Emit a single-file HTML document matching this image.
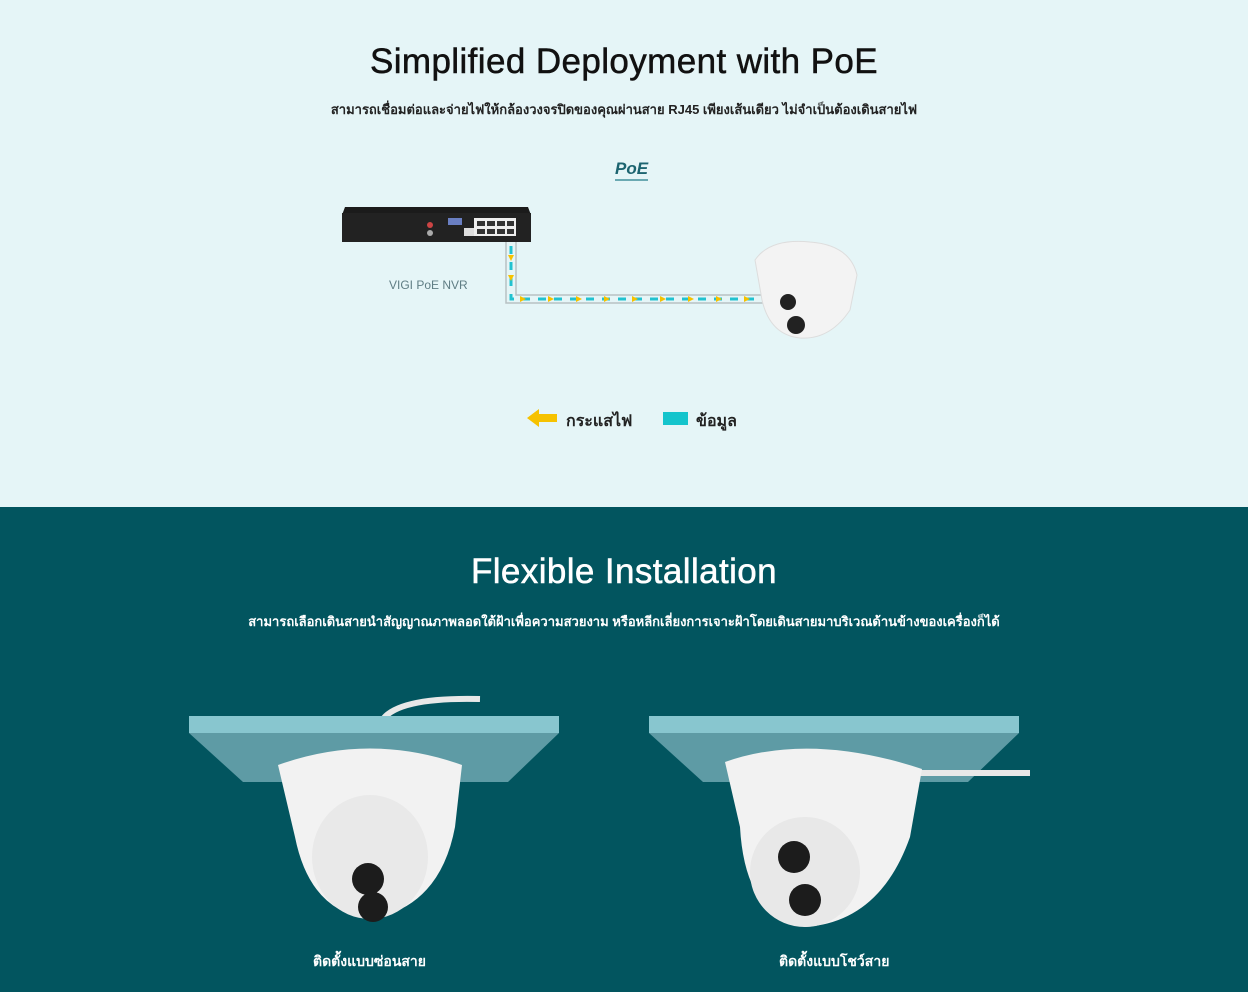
<!DOCTYPE html>
<html><head><meta charset="utf-8"><style>
body{margin:0;width:1248px;height:992px;overflow:hidden;font-family:"Liberation Sans","DejaVu Sans",sans-serif}
.top{position:absolute;left:0;top:0;width:1248px;height:507px;background:#e5f5f7}
.bot{position:absolute;left:0;top:507px;width:1248px;height:485px;background:#02555f}
.t{position:absolute;width:1248px;text-align:center}
</style></head><body>
<div class="top">
<div class="t" style="top:42px;font-size:35px;color:#111;letter-spacing:0.4px;-webkit-text-stroke:0.5px #111">Simplified Deployment with PoE</div>
<div class="t" style="top:99px;font-size:13px;color:#222;font-weight:bold">สามารถเชื่อมต่อและจ่ายไฟให้กล้องวงจรปิดของคุณผ่านสาย RJ45 เพียงเส้นเดียว ไม่จำเป็นต้องเดินสายไฟ</div>
<div style="position:absolute;left:615px;top:159px;font-size:17px;font-style:italic;font-weight:bold;color:#1c6470;border-bottom:2px solid #6aa9b2">PoE</div>
<svg width="1248" height="507" style="position:absolute;left:0;top:0">
<path d="M345 207 L528 207 L531 215 L531 242 L342 242 L342 215 Z" fill="#1b1b1b"/>
<rect x="342" y="213" width="189" height="29" fill="#222"/>
<rect x="474" y="218" width="42" height="18" fill="#eee"/>
<g fill="#333"><rect x="477" y="221" width="8" height="5"/><rect x="487" y="221" width="8" height="5"/><rect x="497" y="221" width="8" height="5"/><rect x="507" y="221" width="7" height="5"/><rect x="477" y="229" width="8" height="5"/><rect x="487" y="229" width="8" height="5"/><rect x="497" y="229" width="8" height="5"/><rect x="507" y="229" width="7" height="5"/></g>
<rect x="448" y="218" width="14" height="7" fill="#6a7fc2"/>
<circle cx="430" cy="225" r="3" fill="#c44"/><circle cx="430" cy="233" r="3" fill="#aaa"/>
<rect x="464" y="228" width="10" height="8" fill="#ddd"/>
<path d="M506 242 V303 H764 M516 242 V295 H764" fill="none" stroke="#b8c2c4" stroke-width="1.5"/>
<path d="M511 246 V299 H762" fill="none" stroke="#22c2d0" stroke-width="3" stroke-dasharray="8 8"/>
<g fill="#f6c200">
<path d="M508 255 h6 l-3 6z"/><path d="M508 275 h6 l-3 6z"/>
<path d="M520 296 v6 l6 -3z"/><path d="M548 296 v6 l6 -3z"/><path d="M576 296 v6 l6 -3z"/><path d="M604 296 v6 l6 -3z"/><path d="M632 296 v6 l6 -3z"/><path d="M660 296 v6 l6 -3z"/><path d="M688 296 v6 l6 -3z"/><path d="M716 296 v6 l6 -3z"/><path d="M744 296 v6 l6 -3z"/>
</g>
<path d="M755 260 Q770 238 810 242 Q850 245 857 275 L850 310 Q830 340 800 338 Q770 335 762 300 Z" fill="#f3f3f3" stroke="#ddd"/>
<circle cx="788" cy="302" r="8" fill="#222"/><circle cx="796" cy="325" r="9" fill="#222"/>
<path d="M527 418 l12 -9 v5 h18 v8 h-18 v5z" fill="#f6c200"/>
<rect x="663" y="412" width="25" height="13" fill="#14c4cc"/>
</svg>
<div style="position:absolute;left:389px;top:278px;font-size:12px;color:#5f7d84">VIGI PoE NVR</div>
<div style="position:absolute;left:566px;top:409px;font-size:16px;color:#222;font-weight:bold">กระแสไฟ</div>
<div style="position:absolute;left:696px;top:409px;font-size:16px;color:#222;font-weight:bold">ข้อมูล</div>
</div>
<div class="bot">
<div class="t" style="top:45px;font-size:35px;color:#fff;letter-spacing:0.4px;-webkit-text-stroke:0.5px #fff">Flexible Installation</div>
<div class="t" style="top:104px;font-size:13px;color:#fff;font-weight:bold">สามารถเลือกเดินสายนำสัญญาณภาพลอดใต้ฝ้าเพื่อความสวยงาม หรือหลีกเลี่ยงการเจาะฝ้าโดยเดินสายมาบริเวณด้านข้างของเครื่องก็ได้</div>
<svg width="1248" height="485" style="position:absolute;left:0;top:0">
<path d="M383 212 Q400 190 480 192" fill="none" stroke="#e8e8e8" stroke-width="6"/>
<rect x="189" y="209" width="370" height="17" fill="#88c6cf"/>
<path d="M189 226 H559 L508 275 H243 Z" fill="#5e9ba5"/>
<path d="M278 258 Q370 225 462 258 L455 320 Q440 400 370 412 Q310 405 295 330 Z" fill="#f2f2f2"/>
<ellipse cx="370" cy="350" rx="58" ry="62" fill="#e9e9e9"/>
<circle cx="368" cy="372" r="16" fill="#1c1c1c"/><circle cx="373" cy="400" r="15" fill="#1c1c1c"/>
<rect x="649" y="209" width="370" height="17" fill="#88c6cf"/>
<path d="M649 226 H1019 L968 275 H703 Z" fill="#5e9ba5"/>
<path d="M920 266 H1030" stroke="#e8e8e8" stroke-width="6"/>
<path d="M725 255 Q810 225 922 262 L910 330 Q880 415 805 420 Q745 410 740 320 Z" fill="#f2f2f2"/>
<ellipse cx="805" cy="365" rx="55" ry="55" fill="#e8e8e8"/>
<circle cx="794" cy="350" r="16" fill="#1c1c1c"/><circle cx="805" cy="393" r="16" fill="#1c1c1c"/>
</svg>
<div style="position:absolute;left:313px;top:444px;font-size:14px;color:#fff;font-weight:bold">ติดตั้งแบบซ่อนสาย</div>
<div style="position:absolute;left:779px;top:444px;font-size:14px;color:#fff;font-weight:bold">ติดตั้งแบบโชว์สาย</div>
</div>
</body></html>
